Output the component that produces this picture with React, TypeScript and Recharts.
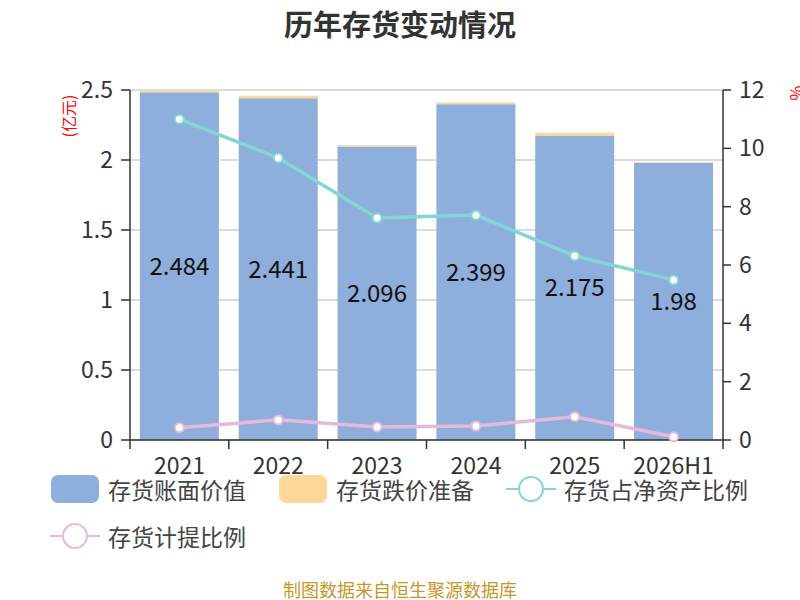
import { ComposedChart, Bar, Line, XAxis, YAxis, CartesianGrid, LabelList } from 'recharts';

const years = ['2021', '2022', '2023', '2024', '2025', '2026H1'];
const bookValue = [2.484, 2.441, 2.096, 2.399, 2.175, 1.98];
const reserve = [0.012, 0.018, 0.01, 0.012, 0.019, 0.004];
const shareOfNetAssets = [11.0, 9.67, 7.61, 7.71, 6.31, 5.49];
const provisionRatio = [0.42, 0.69, 0.45, 0.48, 0.8, 0.11];
const leftTicks = [0, 0.5, 1, 1.5, 2, 2.5];
const rightTicks = [0, 2, 4, 6, 8, 10, 12];

const FONT = "'Noto Sans CJK SC', 'Noto Sans', sans-serif";
const BLUE = '#8eaedb';
const YELLOW = '#fed898';
const CYAN = '#82d6d6';
const PINK = '#e8b8dc';
const AXIS = '#333';

// 绘图区: 左轴 x=130, 右轴 x=723
const LEFT_W = 130;
const RIGHT_W = 77;
const BAND = (800 - LEFT_W - RIGHT_W) / years.length;

const legendItems = [
  { name: '存货账面价值', color: BLUE, kind: 'rect' },
  { name: '存货跌价准备', color: YELLOW, kind: 'rect' },
  { name: '存货占净资产比例', color: CYAN, kind: 'line' },
  { name: '存货计提比例', color: PINK, kind: 'line' },
];

const data = years.map((year, i) => ({
  year,
  bookValue: bookValue[i],
  reserve: reserve[i],
  share: shareOfNetAssets[i],
  provision: provisionRatio[i],
}));

// 刻度线画在类目边界上, 标签居中
function XTick(props: any) {
  const { x, y, payload, index } = props;
  const last = index === years.length - 1;
  return (
    <g>
      <line x1={x - BAND / 2} y1={y} x2={x - BAND / 2} y2={y + 9} stroke={AXIS} strokeWidth={1.5} />
      {last && <line x1={x + BAND / 2} y1={y} x2={x + BAND / 2} y2={y + 9} stroke={AXIS} strokeWidth={1.5} />}
      <text x={x} y={y + 34} textAnchor="middle" fill={AXIS} fontSize={23} fontFamily={FONT}>
        {payload.value}
      </text>
    </g>
  );
}

function LegendIcon({ kind, color }: { kind: string; color: string }) {
  if (kind === 'rect') {
    return (
      <svg width={50} height={30}>
        <rect x={1} y={1} width={48} height={28} rx={7} fill={color} />
      </svg>
    );
  }
  return (
    <svg width={50} height={30}>
      <line x1={0} y1={15} x2={50} y2={15} stroke={color} strokeWidth={2} />
      <circle cx={25} cy={15} r={12} fill="#fff" stroke={color} strokeWidth={2} />
    </svg>
  );
}

export default function App() {
  return (
    <div style={{ position: 'relative', width: 800, height: 600, overflow: 'hidden', fontFamily: FONT, background: '#fff' }}>
      <style>{'body{margin:0}'}</style>
      <div style={{ position: 'absolute', top: 2, left: 0, width: 800, textAlign: 'center', fontSize: 29, fontWeight: 'bold', color: '#333' }}>
        历年存货变动情况
      </div>
      <div style={{ position: 'absolute', left: 68, top: 116, transform: 'translate(-50%, -50%) rotate(-90deg)', color: '#f00', fontSize: 16, whiteSpace: 'nowrap' }}>
        (亿元)
      </div>
      <div style={{ position: 'absolute', left: 797, top: 93, transform: 'translate(-50%, -50%) rotate(90deg)', color: '#f00', fontSize: 16 }}>
        %
      </div>
      <ComposedChart
        width={800}
        height={480}
        data={data}
        margin={{ top: 90, right: 0, left: 0, bottom: 0 }}
        barCategoryGap="10%"
        style={{ position: 'absolute', top: 0, left: 0 }}
      >
        <CartesianGrid horizontal vertical={false} stroke="#cfcfcf" strokeWidth={1.5} yAxisId="left" />
        <XAxis
          dataKey="year"
          height={40}
          axisLine={{ stroke: AXIS, strokeWidth: 1.5 }}
          tickLine={false}
          tickSize={0}
          tickMargin={0}
          tick={<XTick />}
          interval={0}
        />
        <YAxis
          yAxisId="left"
          width={LEFT_W}
          domain={[0, 2.5]}
          ticks={leftTicks}
          axisLine={{ stroke: AXIS, strokeWidth: 1.5 }}
          tickLine={{ stroke: AXIS, strokeWidth: 1.5 }}
          tickSize={9}
          tickMargin={8}
          tick={{ fill: AXIS, fontSize: 23, fontFamily: FONT }}
        />
        <YAxis
          yAxisId="right"
          orientation="right"
          width={RIGHT_W}
          domain={[0, 12]}
          ticks={rightTicks}
          axisLine={{ stroke: AXIS, strokeWidth: 1.5 }}
          tickLine={{ stroke: AXIS, strokeWidth: 1.5 }}
          tickSize={8}
          tickMargin={8}
          tick={{ fill: AXIS, fontSize: 23, fontFamily: FONT }}
        />
        <Bar yAxisId="left" dataKey="bookValue" stackId="a" fill={BLUE} isAnimationActive={false}>
          <LabelList dataKey="bookValue" position="center" fill="#111" fontSize={24} fontFamily={FONT} />
        </Bar>
        <Bar yAxisId="left" dataKey="reserve" stackId="a" fill={YELLOW} isAnimationActive={false} />
        <Line
          yAxisId="right"
          dataKey="share"
          stroke={CYAN}
          strokeWidth={3.5}
          dot={{ r: 4.5, fill: '#fff', stroke: CYAN, strokeWidth: 2 }}
          isAnimationActive={false}
        />
        <Line
          yAxisId="right"
          dataKey="provision"
          stroke={PINK}
          strokeWidth={3.5}
          dot={{ r: 4.5, fill: '#fff', stroke: PINK, strokeWidth: 2 }}
          isAnimationActive={false}
        />
      </ComposedChart>
      <div style={{ position: 'absolute', top: 474, left: 50, width: 750, display: 'flex', flexWrap: 'wrap', rowGap: 17 }}>
        {legendItems.map((it) => (
          <div key={it.name} style={{ display: 'flex', alignItems: 'center', marginRight: 32, height: 30 }}>
            <LegendIcon kind={it.kind} color={it.color} />
            <span style={{ marginLeft: 8, fontSize: 23, color: '#444', whiteSpace: 'nowrap' }}>{it.name}</span>
          </div>
        ))}
      </div>
      <div style={{ position: 'absolute', top: 580, left: 0, width: 800, textAlign: 'center', fontSize: 18, lineHeight: '19px', color: '#c9962c' }}>
        制图数据来自恒生聚源数据库
      </div>
    </div>
  );
}
